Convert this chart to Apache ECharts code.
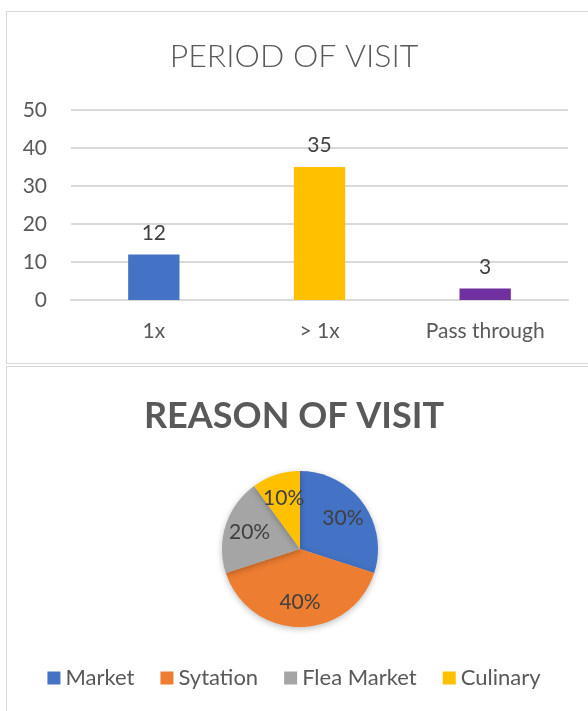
<!DOCTYPE html>
<html>
<head>
<meta charset="utf-8">
<script src="https://cdn.jsdelivr.net/npm/echarts@6/dist/echarts.min.js"></script>
<style>
  html, body { margin: 0; padding: 0; background: #fff; overflow: hidden; }
  .panel { position: absolute; border: 1px solid #d9d9d9; background: #fff; }
  #chart { position: absolute; left: 0; top: 0; width: 588px; height: 711px; }
</style>
</head>
<body>
<div class="panel" style="left:6px; top:11px; width:640px; height:351px;"></div>
<div class="panel" style="left:6px; top:366px; width:640px; height:400px;"></div>
<div id="chart"></div>
<script>
// period of visit (bar)
const periodCats = ['1x', '> 1x', 'Pass through'];
const periodVals = [12, 35, 3];
const periodColors = ['#4472C4', '#FFC000', '#7030A0'];
const yTicks = [0, 10, 20, 30, 40, 50];

// reason of visit (pie)
const reasonNames = ['Market', 'Sytation', 'Flea Market', 'Culinary'];
const reasonVals = [30, 40, 20, 10];
const reasonColors = ['#4472C4', '#ED7D31', '#A5A5A5', '#FFC000'];

const FONT = 'Lato';
const chart = echarts.init(document.getElementById('chart'));

const option = {
  textStyle: { fontFamily: FONT },
  animation: false,
  title: [
    {
      text: 'PERIOD OF VISIT',
      left: 'center', top: 36,
      textStyle: { fontFamily: FONT, fontSize: 32, fontWeight: 300, color: '#595959' }
    },
    {
      text: 'REASON OF VISIT',
      left: 'center', top: 393,
      textStyle: { fontFamily: FONT, fontSize: 36, fontWeight: 'bold', color: '#595959' }
    }
  ],
  legend: {
    data: reasonNames,
    bottom: 17,
    left: 'center',
    icon: 'rect',
    itemWidth: 13, itemHeight: 13,
    itemGap: 26,
    itemStyle: { borderWidth: 0 },
    textStyle: { fontFamily: FONT, fontSize: 22, color: '#595959' }
  },
  grid: { left: 71, top: 110, width: 497, height: 190 },
  xAxis: {
    type: 'category',
    data: periodCats,
    axisLine: { lineStyle: { color: '#d9d9d9', width: 2 } },
    axisTick: { show: false },
    axisLabel: { fontSize: 21, color: '#595959', margin: 21 }
  },
  yAxis: {
    type: 'value',
    min: yTicks[0], max: yTicks[yTicks.length - 1], interval: 10,
    axisLabel: { fontSize: 21, color: '#595959', margin: 24 },
    splitLine: { lineStyle: { color: '#d9d9d9', width: 2 } }
  },
  series: [
    {
      type: 'bar',
      barWidth: '31%',
      data: periodVals.map((v, i) => ({ value: v, itemStyle: { color: periodColors[i] } })),
      label: { show: true, position: 'top', distance: 11, fontSize: 21, color: '#404040' }
    },
    {
      type: 'pie',
      center: [300, 549],
      radius: [0, 78],
      startAngle: 90,
      clockwise: true,
      data: reasonNames.map((n, i) => ({ name: n, value: reasonVals[i], itemStyle: { color: reasonColors[i] } })),
      itemStyle: { shadowBlur: 6, shadowColor: 'rgba(0,0,0,0.25)', shadowOffsetY: 2 },
      label: { show: false },
      labelLine: { show: false }
    },
    {
      // transparent ring used only to place the percent labels
      type: 'pie',
      center: [300, 549],
      radius: [22, 78],
      startAngle: 90,
      clockwise: true,
      silent: true,
      legendHoverLink: false,
      data: reasonNames.map((n, i) => ({ name: n + ' ', value: reasonVals[i], itemStyle: { color: 'rgba(0,0,0,0)' } })),
      label: { show: true, position: 'inside', formatter: '{d}%', fontSize: 21, color: '#404040' },
      labelLine: { show: false }
    }
  ]
};

option && chart.setOption(option);
</script>
</body>
</html>
